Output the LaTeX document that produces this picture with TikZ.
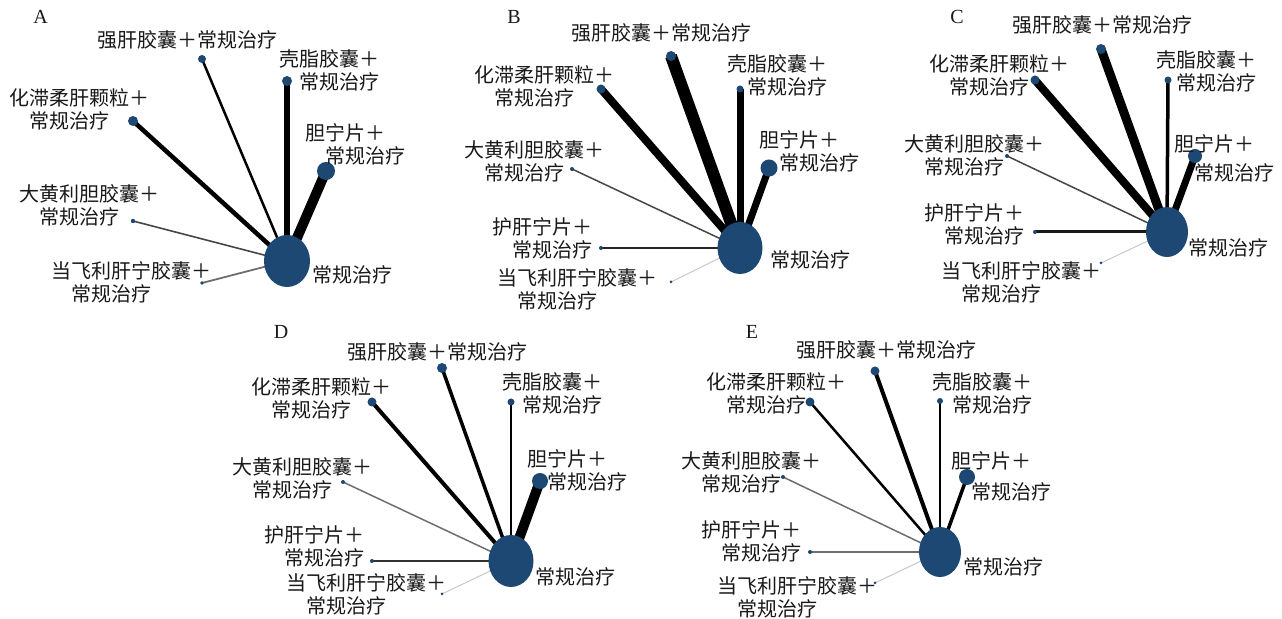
\documentclass[tikz,border=0pt]{standalone}
\usepackage{fontspec}
\setmainfont{Liberation Serif}
\newfontfamily\cjk{Noto Sans CJK SC}
\usetikzlibrary{shapes.geometric}
\pgfdeclarelayer{bg}
\pgfsetlayers{bg,main}
\definecolor{nodeblue}{RGB}{28,72,115}
\definecolor{txt}{RGB}{25,25,25}
\definecolor{gA}{RGB}{70,70,70}
\definecolor{gB}{RGB}{110,110,110}
\definecolor{gC}{RGB}{200,200,200}
\tikzset{
  hub/.style 2 args={ellipse, fill=nodeblue, inner sep=0pt, minimum width=#1, minimum height=#2},
  leaf/.style={circle, fill=nodeblue, inner sep=0pt, minimum size=#1},
  lbl/.style={font=\cjk\fontsize{10}{11.5}\selectfont, text=txt, inner sep=0pt, align=left, anchor=west},
  ttl/.style={font=\fontsize{10}{11}\selectfont, text=txt, inner sep=0pt},
  lnk/.style={line width=#1, draw=black}
}
\begin{document}
\begin{tikzpicture}[x=0.5pt, y=-0.5pt]
\useasboundingbox (0,0) rectangle (1282,619);

% ---------------- Panel A ----------------
\node[ttl] (tA) at (40.5,17) {A};
\node[hub={23pt}{26pt}] (A0) at (287,261) {};
\node[lbl] (lA0) at (312,275) {常规治疗};
\node[leaf=4pt] (A1) at (202,59) {};
\node[lbl] (lA1) at (97,40) {强肝胶囊＋常规治疗};
\node[leaf=5pt] (A2) at (287,81) {};
\node[lbl] (lA2) at (279,70) {壳脂胶囊＋\\\quad 常规治疗};
\node[leaf=5pt] (A3) at (133,121) {};
\node[lbl] (lA3) at (9,109) {化滞柔肝颗粒＋\\\quad 常规治疗};
\node[leaf=9pt] (A4) at (326,171) {};
\node[lbl] (lA4) at (305,144) {胆宁片＋\\\quad 常规治疗};
\node[leaf=2.2pt] (A5) at (133,221) {};
\node[lbl] (lA5) at (19,205) {大黄利胆胶囊＋\\\quad 常规治疗};
\node[leaf=1.8pt] (A6) at (202,283) {};
\node[lbl] (lA6) at (51,282) {当飞利肝宁胶囊＋\\\quad 常规治疗};

% ---------------- Panel B ----------------
\node[ttl] (tB) at (514,17) {B};
\node[hub={22.5pt}{26pt}] (B0) at (740,248) {};
\node[lbl] (lB0) at (770,260) {常规治疗};
\node[leaf=5pt] (B1) at (671,56) {};
\node[lbl] (lB1) at (571,33) {强肝胶囊＋常规治疗};
\node[leaf=3.5pt] (B2) at (740,89) {};
\node[lbl] (lB2) at (727,75) {壳脂胶囊＋\\\quad 常规治疗};
\node[leaf=4.5pt] (B3) at (601,89) {};
\node[lbl] (lB3) at (474,86) {化滞柔肝颗粒＋\\\quad 常规治疗};
\node[leaf=8.5pt] (B4) at (769,168) {};
\node[lbl] (lB4) at (759,151) {胆宁片＋\\\quad 常规治疗};
\node[leaf=2pt] (B5) at (572,169) {};
\node[lbl] (lB5) at (464,161) {大黄利胆胶囊＋\\\quad 常规治疗};
\node[leaf=2pt] (B7) at (601,248) {};
\node[lbl] (lB7) at (492,238) {护肝宁片＋\\\quad 常规治疗};
\node[leaf=1.5pt] (B6) at (671,282) {};
\node[lbl] (lB6) at (497,289) {当飞利肝宁胶囊＋\\\quad 常规治疗};

% ---------------- Panel C ----------------
\node[ttl] (tC) at (957,17) {C};
\node[hub={21pt}{25pt}] (C0) at (1167,232) {};
\node[lbl] (lC0) at (1188,248) {常规治疗};
\node[leaf=5pt] (C1) at (1101,49) {};
\node[lbl] (lC1) at (1012,25) {强肝胶囊＋常规治疗};
\node[leaf=3.5pt] (C2) at (1168,80) {};
\node[lbl] (lC2) at (1156,71) {壳脂胶囊＋\\\quad 常规治疗};
\node[leaf=4.5pt] (C3) at (1035,80) {};
\node[lbl] (lC3) at (929,75) {化滞柔肝颗粒＋\\\quad 常规治疗};
\node[leaf=7pt] (C4) at (1195,156) {};
\node[lbl] (lC4) at (1174,158) {胆宁片＋\\[3pt]\quad 常规治疗};
\node[leaf=2pt] (C5) at (1007,156) {};
\node[lbl] (lC5) at (904,155) {大黄利胆胶囊＋\\\quad 常规治疗};
\node[leaf=2pt] (C7) at (1035,232) {};
\node[lbl] (lC7) at (924,224) {护肝宁片＋\\\quad 常规治疗};
\node[leaf=1.5pt] (C6) at (1101,263) {};
\node[lbl] (lC6) at (941,282) {当飞利肝宁胶囊＋\\\quad 常规治疗};

% ---------------- Panel D ----------------
\node[ttl] (tD) at (281,331.5) {D};
\node[hub={22.5pt}{26pt}] (D0) at (511,561) {};
\node[lbl] (lD0) at (535,577) {常规治疗};
\node[leaf=5pt] (D1) at (442,368) {};
\node[lbl] (lD1) at (347,352) {强肝胶囊＋常规治疗};
\node[leaf=3.5pt] (D2) at (511,402) {};
\node[lbl] (lD2) at (502,393) {壳脂胶囊＋\\\quad 常规治疗};
\node[leaf=4.5pt] (D3) at (372,402) {};
\node[lbl] (lD3) at (251,398) {化滞柔肝颗粒＋\\\quad 常规治疗};
\node[leaf=8pt] (D4) at (540,481) {};
\node[lbl] (lD4) at (527,470) {胆宁片＋\\\quad 常规治疗};
\node[leaf=2pt] (D5) at (343,482) {};
\node[lbl] (lD5) at (232,478) {大黄利胆胶囊＋\\\quad 常规治疗};
\node[leaf=2pt] (D7) at (372,561) {};
\node[lbl] (lD7) at (264,546) {护肝宁片＋\\\quad 常规治疗};
\node[leaf=1.5pt] (D6) at (442,594) {};
\node[lbl] (lD6) at (286,594) {当飞利肝宁胶囊＋\\\quad 常规治疗};

% ---------------- Panel E ----------------
\node[ttl] (tE) at (752,331.5) {E};
\node[hub={21pt}{25pt}] (E0) at (940,552) {};
\node[lbl] (lE0) at (963,567) {常规治疗};
\node[leaf=4.5pt] (E1) at (875,371) {};
\node[lbl] (lE1) at (796,350) {强肝胶囊＋常规治疗};
\node[leaf=3pt] (E2) at (940,401) {};
\node[lbl] (lE2) at (932,393) {壳脂胶囊＋\\\quad 常规治疗};
\node[leaf=4.5pt] (E3) at (810,402) {};
\node[lbl] (lE3) at (706,393) {化滞柔肝颗粒＋\\\quad 常规治疗};
\node[leaf=8pt] (E4) at (967,477) {};
\node[lbl] (lE4) at (951,476) {胆宁片＋\\[4pt]\quad 常规治疗};
\node[leaf=2pt] (E5) at (783,477) {};
\node[lbl] (lE5) at (681,472) {大黄利胆胶囊＋\\\quad 常规治疗};
\node[leaf=2pt] (E7) at (810,552) {};
\node[lbl] (lE7) at (701,541) {护肝宁片＋\\\quad 常规治疗};
\node[leaf=1.5pt] (E6) at (875,583) {};
\node[lbl] (lE6) at (717,597) {当飞利肝宁胶囊＋\\\quad 常规治疗};

\begin{pgfonlayer}{bg}
% A
\draw[lnk=1.25pt] (A1.center) -- (A0.center);
\draw[lnk=3.25pt] (A2.center) -- (A0.center);
\draw[lnk=2.25pt] (A3.center) -- (A0.center);
\draw[lnk=5pt]    (A4.center) -- (A0.center);
\draw[lnk=0.8pt, draw=gA] (A5.center) -- (A0.center);
\draw[lnk=0.9pt, draw=gB] (A6.center) -- (A0.center);
% B
\draw[lnk=6pt]   (B1.center) -- (B0.center);
\draw[lnk=3.5pt] (B2.center) -- (B0.center);
\draw[lnk=4pt]   (B3.center) -- (B0.center);
\draw[lnk=3.5pt] (B4.center) -- (B0.center);
\draw[lnk=0.75pt, draw=gA] (B5.center) -- (B0.center);
\draw[lnk=1.4pt, draw=black!85] (B7.center) -- (B0.center);
\draw[lnk=0.5pt, draw=gC] (B6.center) -- (B0.center);
% C
\draw[lnk=4.5pt]  (C1.center) -- (C0.center);
\draw[lnk=1.75pt] (C2.center) -- (C0.center);
\draw[lnk=4pt]    (C3.center) -- (C0.center);
\draw[lnk=3.5pt]  (C4.center) -- (C0.center);
\draw[lnk=0.75pt, draw=gA] (C5.center) -- (C0.center);
\draw[lnk=1.5pt, draw=black!90] (C7.center) -- (C0.center);
\draw[lnk=0.5pt, draw=gC] (C6.center) -- (C0.center);
% D
\draw[lnk=1.75pt] (D1.center) -- (D0.center);
\draw[lnk=1.25pt] (D2.center) -- (D0.center);
\draw[lnk=2pt]    (D3.center) -- (D0.center);
\draw[lnk=5pt]    (D4.center) -- (D0.center);
\draw[lnk=0.75pt, draw=gB] (D5.center) -- (D0.center);
\draw[lnk=1.3pt, draw=black!80] (D7.center) -- (D0.center);
\draw[lnk=0.5pt, draw=gC] (D6.center) -- (D0.center);
% E
\draw[lnk=2pt]    (E1.center) -- (E0.center);
\draw[lnk=1.25pt] (E2.center) -- (E0.center);
\draw[lnk=1.25pt] (E3.center) -- (E0.center);
\draw[lnk=1.75pt] (E4.center) -- (E0.center);
\draw[lnk=0.75pt, draw=gB] (E5.center) -- (E0.center);
\draw[lnk=1.3pt, draw=gB] (E7.center) -- (E0.center);
\draw[lnk=0.5pt, draw=gC] (E6.center) -- (E0.center);
\end{pgfonlayer}
\end{tikzpicture}
\end{document}
